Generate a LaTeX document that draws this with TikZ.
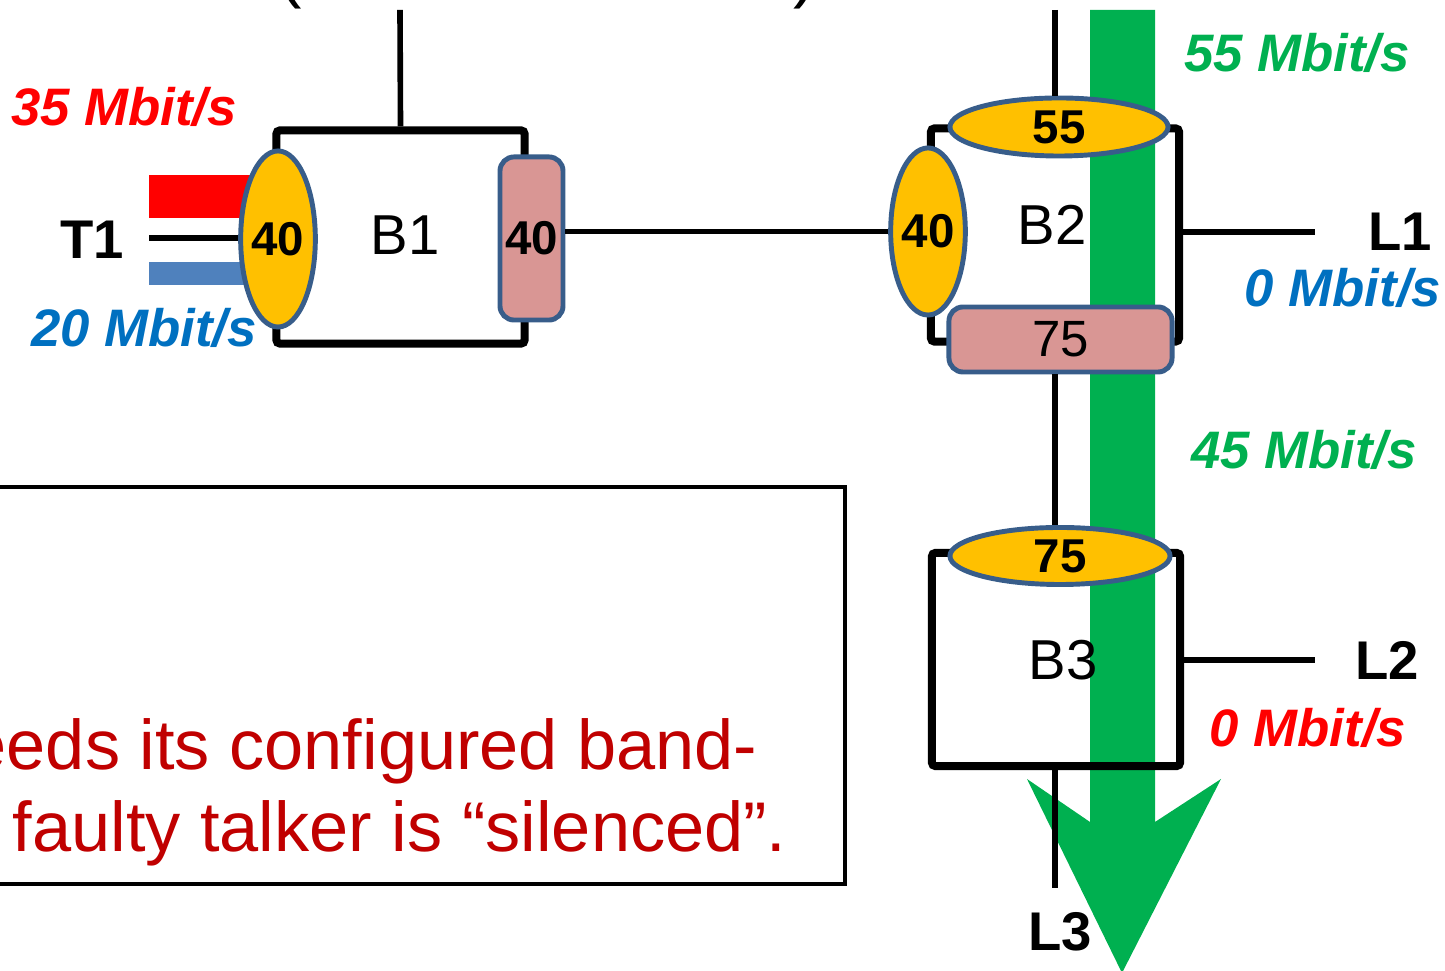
\documentclass[tikz,border=0pt]{standalone}
\usepackage{fontspec}
\setmainfont{Liberation Sans}
\usetikzlibrary{shapes.geometric}
\definecolor{portyellow}{RGB}{255, 192, 0}
\definecolor{portedge}{RGB}{56, 93, 138}
\definecolor{shaperpink}{RGB}{217, 150, 148}
\definecolor{flowgreen}{RGB}{0, 176, 80}
\definecolor{ratered}{RGB}{255, 0, 0}
\definecolor{rateblue}{RGB}{0, 112, 192}
\definecolor{barblue}{RGB}{79, 129, 189}
\definecolor{notered}{RGB}{192, 0, 0}

\tikzset{
  bridge/.style={draw, line width=2.3pt, rounded corners=1pt, minimum width=2.48cm, minimum height=2.13cm, inner sep=0pt},
  inport/.style={ellipse, draw=portedge, line width=1.4pt, fill=portyellow, inner sep=0pt, font=\fontsize{13.5}{16}\selectfont\bfseries},
  outport/.style={draw=portedge, line width=1.4pt, fill=shaperpink, rounded corners=4pt, inner sep=0pt},
  rate/.style={font=\fontsize{15}{18}\selectfont\bfseries\itshape},
  endpt/.style={font=\fontsize{15.5}{18}\selectfont\bfseries},
  link/.style={line width=1.6pt},
}

\begin{document}
\begin{tikzpicture}[x=0.01cm, y=-0.01cm]
  \useasboundingbox (0,0) rectangle (1445,971);

  % --- Cut-off heading (only the paren tails show) ---
  \node[font=\fontsize{20}{24}\selectfont, anchor=base, inner sep=0pt] (lpar) at (290,-5) {(};
  \node[font=\fontsize{20}{24}\selectfont, anchor=base, inner sep=0pt] (rpar) at (805,-5) {)};

  % --- Stream path, drawn first so it sits behind ---
  \fill[flowgreen] (1090,10) -- (1155,10) -- (1155,822) -- (1221,779)
    -- (1122,973) -- (1027,779) -- (1090,822) -- cycle;

  % --- Bridges ---
  \node[bridge] (b1) at (400.5,237) {};
  \node[bridge] (b2) at (1055,235) {};
  \node[bridge] (b3) at (1056,659.5) {};
  \node[font=\fontsize{16}{18}\selectfont] (b1txt) at (405,235) {B1};
  \node[font=\fontsize{16}{18}\selectfont] (b2txt) at (1052,225) {B2};
  \node[font=\fontsize{16}{18}\selectfont] (b3txt) at (1063,660) {B3};

  % Talker T1 with its two streams
  \fill[ratered] (149,175) rectangle (262,218);
  \fill[barblue] (149,262) rectangle (262,285);
  \node[endpt] (t1) at (92,240) {T1};
  \coordinate (t1end) at (149,238);

  % --- Ports ---
  \node[inport, minimum width=0.62cm, minimum height=1.76cm] (b1in) at (278,239) {40};
  \node[outport, minimum width=0.63cm, minimum height=1.63cm, font=\fontsize{13.5}{16}\selectfont\bfseries] (b1out) at (531.5,238.5) {40};
  \node[inport, minimum width=0.67cm, minimum height=1.67cm] (b2in) at (928,231.5) {40};
  \node[inport, minimum width=2.18cm, minimum height=0.58cm] (b2top) at (1059,127) {55};
  \node[outport, minimum width=2.23cm, minimum height=0.65cm, font=\fontsize{14.5}{16}\selectfont] (b2bot) at (1060.5,339.5) {75};
  \node[inport, minimum width=2.2cm, minimum height=0.57cm] (b3top) at (1060,556) {75};

  % --- Links ---
  \draw[link] (t1end) -- (t1end -| b1in.west);
  \coordinate (b1feed) at (400,10);
  \draw[link] (b1feed) -- (b1.north);
  \draw[link] (b2in.west) -- (b2in.west -| b1out.east);
  \coordinate (b2feed) at (1055,10);
  \draw[link] (b2feed) -- (b2feed |- b2top.north);
  \draw[link] (b2.center |- b2bot.south) -- (b2.center |- b3top.north);
  \coordinate (l1end) at (1315,232);
  \draw[link] (l1end -| b2.east) -- (l1end);
  \coordinate (l2end) at (1315,660);
  \draw[link] (l2end -| b3.east) -- (l2end);
  \coordinate (l3end) at (1055,888);
  \draw[link] (b3.south -| l3end) -- (l3end);

  % --- Listeners ---
  \node[endpt] (l1) at (1400,232) {L1};
  \node[endpt] (l2) at (1387,660) {L2};
  \node[endpt] (l3) at (1060,932) {L3};

  % --- Rates ---
  \node[rate, ratered] (r35) at (124,107) {35 Mbit/s};
  \node[rate, rateblue] (r20) at (144,328) {20 Mbit/s};
  \node[rate, flowgreen] (r55) at (1297,53) {55 Mbit/s};
  \node[rate, rateblue] (r0a) at (1343,288) {0 Mbit/s};
  \node[rate, flowgreen] (r45) at (1304,450) {45 Mbit/s};
  \node[rate, ratered] (r0b) at (1308,728) {0 Mbit/s};

  % --- Note box ---
  \draw[line width=0.9pt] (-10,487) rectangle (845,884);
  \node[anchor=base west, inner sep=0pt, notered, font=\fontsize{20}{24}\selectfont] (nota) at (-33,770) {eeds its configured band-};
  \node[anchor=base west, inner sep=0pt, notered, font=\fontsize{20}{24}\selectfont] (notb) at (12,852) {faulty talker is “silenced”.};

\end{tikzpicture}
\end{document}
